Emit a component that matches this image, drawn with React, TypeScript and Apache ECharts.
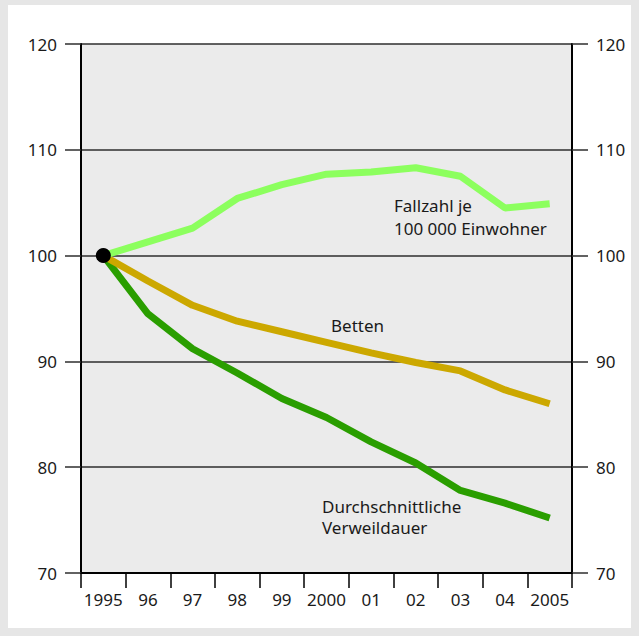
import React, { useEffect, useRef } from "react";
import * as echarts from "echarts";

const years = ["1995", "96", "97", "98", "99", "2000", "01", "02", "03", "04", "2005"];
const fallzahl = [100, 101.3, 102.6, 105.4, 106.7, 107.7, 107.9, 108.3, 107.5, 104.5, 104.9];
const betten = [100, 97.6, 95.3, 93.8, 92.8, 91.8, 90.8, 89.9, 89.1, 87.3, 86.0];
const verweildauer = [100, 94.5, 91.2, 88.9, 86.5, 84.7, 82.4, 80.4, 77.8, 76.6, 75.2];
const yTicks = { min: 70, max: 120, interval: 10 };

const FONT = "'Noto Sans', sans-serif";
const GRID_COLOR = "#2e2e2e";
const FS = 17;

export default function App() {
  const ref = useRef<HTMLDivElement>(null);
  useEffect(() => {
    if (!ref.current) return;
    const chart = echarts.init(ref.current, null, { renderer: "svg" });
    const yAxisBase = (position: "left" | "right") => ({
      type: "value",
      position,
      min: yTicks.min,
      max: yTicks.max,
      interval: yTicks.interval,
      axisLine: { show: true, lineStyle: { color: "#000", width: 2 } },
      axisTick: { show: true, length: 16, lineStyle: { color: GRID_COLOR, width: 1.5 } },
      axisLabel: {
        margin: 24,
        color: "#1a1a1a",
        fontFamily: FONT,
        fontSize: FS,
        align: position === "left" ? "right" : "left",
      },
      splitLine: { show: position === "left", lineStyle: { color: GRID_COLOR, width: 1.5 } },
    });
    chart.setOption({
      animation: false,
      backgroundColor: "#e6e6e6",
      textStyle: { fontFamily: FONT },
      graphic: [
        { type: "rect", z: -10, shape: { x: 8, y: 5, width: 623, height: 623 }, style: { fill: "#ffffff" }, silent: true },
        {
          type: "text", left: 394, top: 194, z: 50,
          style: { text: "Fallzahl je\n100 000 Einwohner", fill: "#1a1a1a", font: `${FS}px ${FONT}`, lineHeight: 23 },
        },
        {
          type: "text", left: 331, top: 315, z: 50,
          style: { text: "Betten", fill: "#1a1a1a", font: `${FS}px ${FONT}`, lineHeight: 21 },
        },
        {
          type: "text", left: 322, top: 496, z: 50,
          style: { text: "Durchschnittliche\nVerweildauer", fill: "#1a1a1a", font: `${FS}px ${FONT}`, lineHeight: 21 },
        },
      ],
      grid: {
        left: 81, top: 44, right: 67, bottom: 63,
        show: true, backgroundColor: "#ebebeb", borderWidth: 0,
      },
      xAxis: {
        type: "category",
        data: years,
        boundaryGap: true,
        axisLine: { show: true, lineStyle: { color: "#000", width: 2 } },
        axisTick: { show: true, length: 15, alignWithLabel: false, lineStyle: { color: "#000", width: 1.5 } },
        axisLabel: { margin: 18, color: "#1a1a1a", fontFamily: FONT, fontSize: FS, interval: 0 },
        splitLine: { show: false },
      },
      yAxis: [yAxisBase("left"), yAxisBase("right")],
      series: [
        {
          name: "Durchschnittliche Verweildauer", type: "line", data: verweildauer,
          symbol: "none", lineStyle: { color: "#2a9e00", width: 7 }, z: 3,
        },
        {
          name: "Betten", type: "line", data: betten,
          symbol: "none", lineStyle: { color: "#cca800", width: 7 }, z: 4,
        },
        {
          name: "Fallzahl je 100 000 Einwohner", type: "line", data: fallzahl,
          symbol: "none", lineStyle: { color: "#8cff5e", width: 7 }, z: 5,
        },
        {
          type: "scatter", data: [[years[0], fallzahl[0]]],
          symbol: "circle", symbolSize: 15, itemStyle: { color: "#000", opacity: 1 }, z: 6,
        },
      ],
    });
    return () => chart.dispose();
  }, []);
  return (
    <div
      ref={ref}
      style={{ position: "absolute", left: 0, top: 0, width: 639, height: 636 }}
    />
  );
}
